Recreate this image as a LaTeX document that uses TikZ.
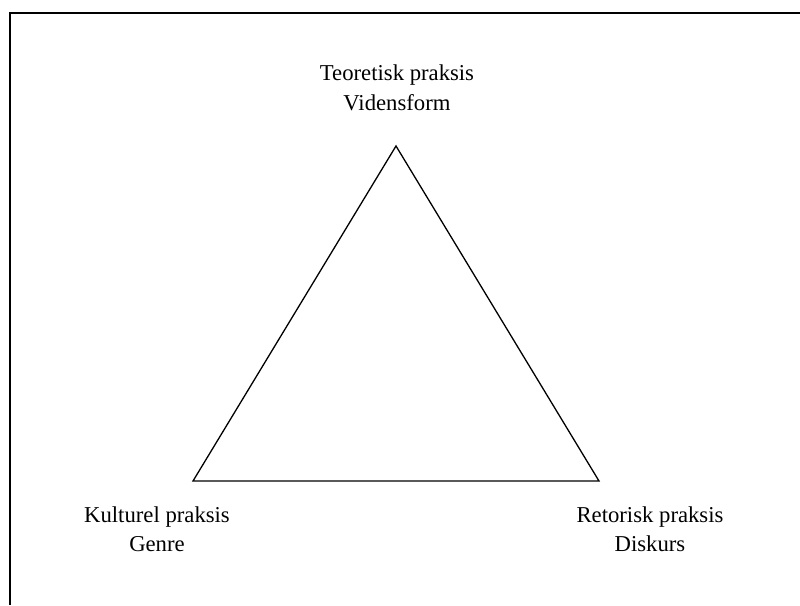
\documentclass[tikz,border=0pt]{standalone}
\usepackage{fontspec}
\setmainfont{Liberation Serif}
\begin{document}
\begin{tikzpicture}[x=1pt,y=-1pt,
  lbl/.style={align=center, font=\fontsize{22.7}{29.5}\selectfont, inner sep=0pt},
  edge/.style={line width=1.3pt, line join=miter}]
\useasboundingbox (0,0) rectangle (800,605);
\draw[line width=1.6pt] (800,13) -- (10,13) -- (10,605);
\coordinate (top) at (396,146);
\coordinate (bl) at (193,481);
\coordinate (br) at (599,481);
\draw[edge] (top) -- (bl) -- (br) -- cycle;
\node[lbl] (t) at (397,88) {Teoretisk praksis\\Vidensform};
\node[lbl] (l) at (157,529) {Kulturel praksis\\Genre};
\node[lbl] (r) at (650,529) {Retorisk praksis\\Diskurs};
\end{tikzpicture}
\end{document}
